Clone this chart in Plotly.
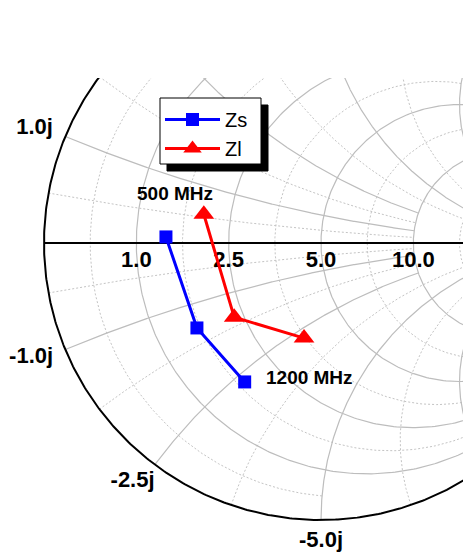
import numpy as np
import plotly.graph_objects as go

# ---------------- data (ohms, reference impedance Z0) ----------------
Z0 = 5.0
series_names = ["Zs", "Zl"]
zs_real = [1.41, 1.61, 1.79]
zs_imag = [0.09, -1.40, -2.67]
zl_real = [1.99, 2.31, 3.53]
zl_imag = [0.51, -1.49, -2.76]
freq_labels = ["500 MHz", "1200 MHz"]

# axis ticks (ohms)
real_ticks = [1.0, 2.5, 5.0, 10.0]
imag_ticks = [1.0, -1.0, -2.5, -5.0]
# grid values (normalised)
major_r = [0.2, 0.5, 1.0, 2.0, 5.0]
major_x = [0.2, 0.5, 1.0, 2.0, 5.0]
minor_v = [1 / 11, 1 / 3, 5 / 7, 7 / 5, 3.0, 11.0]

# ---------------- geometry helpers ----------------
PX = 277.0          # pixels per unit of reflection coefficient
CX, CY = 313.0, 235.0   # chart centre in figure pixels
W, H = 471, 556
TOP = 70
INF = 1e6


def gamma(z):
    z = np.asarray(z, dtype=complex)
    return (z - 1) / (z + 1)


def res_arc(r, xlim):
    t = np.linspace(-np.arctan(xlim), np.arctan(xlim), 400)
    g = gamma(r + 1j * np.tan(t))
    return list(g.real) + [None], list(g.imag) + [None]


def react_arc(x, rlim):
    t = np.linspace(0, np.arctan(rlim), 400)
    g = gamma(np.tan(t) + 1j * x)
    return list(g.real) + [None], list(g.imag) + [None]


def collect(items):
    xs, ys = [], []
    for a, b in items:
        xs += a
        ys += b
    return xs, ys


# grid extents
maj_r_lim = {0.2: 2.0, 0.5: 5.0, 1.0: INF, 2.0: INF, 5.0: INF}
maj_x_lim = {0.2: 2.0, 0.5: 2.0, 1.0: 5.0, 2.0: 5.0, 5.0: INF}
min_lim_r = {1 / 11: 1.0, 1 / 3: 2.0, 5 / 7: INF, 7 / 5: INF, 3.0: INF, 11.0: INF}
min_lim_x = {1 / 11: 2.0, 1 / 3: 2.0, 5 / 7: 5.0, 7 / 5: 5.0, 3.0: INF, 11.0: INF}

maj_items = [res_arc(r, maj_r_lim[r]) for r in major_r]
for x in major_x:
    maj_items.append(react_arc(x, maj_x_lim[x]))
    maj_items.append(react_arc(-x, maj_x_lim[x]))
min_items = [res_arc(r, min_lim_r[r]) for r in minor_v]
for x in minor_v:
    min_items.append(react_arc(x, min_lim_x[x]))
    min_items.append(react_arc(-x, min_lim_x[x]))

mx, my = collect(maj_items)
nx, ny = collect(min_items)


def px2x(p):
    return (p - CX) / PX


def px2y(p):
    return (CY - p) / PX


fig = go.Figure()
fig.add_trace(go.Scatter(x=nx, y=ny, mode="lines", showlegend=False, hoverinfo="skip",
                         line=dict(color="#c4c4c4", width=1, dash="2px,2px")))
fig.add_trace(go.Scatter(x=mx, y=my, mode="lines", showlegend=False, hoverinfo="skip",
                         line=dict(color="#bdbdbd", width=1.2)))
# outer circle and real axis
th = np.linspace(0, 2 * np.pi, 721)
fig.add_trace(go.Scatter(x=np.cos(th), y=np.sin(th), mode="lines", showlegend=False,
                         hoverinfo="skip", line=dict(color="black", width=2)))
fig.add_trace(go.Scatter(x=[-1, 1], y=[0, 0], mode="lines", showlegend=False,
                         hoverinfo="skip", line=dict(color="black", width=2)))

# legend frame: drop shadow + white box (drawn under the transparent legend)
fig.add_shape(type="rect", xref="x", yref="y", layer="above",
              x0=px2x(159), x1=px2x(260), y0=px2y(163), y1=px2y(97),
              fillcolor="black", line=dict(color="black", width=1))
fig.add_shape(type="rect", xref="x", yref="y", layer="above",
              x0=px2x(152), x1=px2x(253), y0=px2y(156), y1=px2y(90),
              fillcolor="white", line=dict(color="black", width=1))

# tick labels
FS = 22
lab_font = dict(family="Liberation Sans, Arial", size=FS, color="black", weight="bold")


def text_w(s):
    w = {"-": 0.333, ".": 0.278, "j": 0.278}
    return sum(w.get(c, 0.556) for c in s) * FS


rg = gamma(np.array(real_ticks) / Z0).real
fig.add_trace(go.Scatter(x=rg, y=[-18 / PX] * len(rg), mode="text", cliponaxis=False,
                         text=[f"{v:.1f}" for v in real_ticks], textposition="middle center",
                         textfont=lab_font, showlegend=False, hoverinfo="skip"))
lx, ly, lt = [], [], []
for v in imag_ticks:
    g = gamma(1j * v / Z0)
    ang = np.angle(g)
    txt = f"{v:.1f}j"
    hw = text_w(txt) / 2
    hh = 9
    dx = np.cos(ang) * (hw + 15)
    dy = np.sin(ang) * (hh + 12)
    lx.append(g.real + dx / PX)
    ly.append(g.imag + dy / PX)
    lt.append(txt)
fig.add_trace(go.Scatter(x=lx, y=ly, mode="text", text=lt, textposition="middle center",
                         cliponaxis=False, textfont=lab_font, showlegend=False,
                         hoverinfo="skip"))

# data
gs = gamma((np.array(zs_real) + 1j * np.array(zs_imag)) / Z0)
gl = gamma((np.array(zl_real) + 1j * np.array(zl_imag)) / Z0)
fig.add_trace(go.Scatter(x=gs.real, y=gs.imag, mode="lines+markers", name=series_names[0],
                         line=dict(color="blue", width=3),
                         marker=dict(symbol="square", size=13, color="blue")))
fig.add_trace(go.Scatter(x=gl.real, y=gl.imag, mode="lines+markers", name=series_names[1],
                         line=dict(color="red", width=3),
                         marker=dict(symbol="triangle-up", size=18, color="red")))

ann_font = dict(family="Liberation Sans, Arial", size=19, color="black", weight="bold")
fig.add_annotation(x=gl.real[0], y=gl.imag[0], text=freq_labels[0], showarrow=False,
                   xshift=-29, yshift=21, font=ann_font)
fig.add_annotation(x=gs.real[-1], y=gs.imag[-1], text=freq_labels[1], showarrow=False,
                   xanchor="left", xshift=19, yshift=4, font=ann_font)

plot_h = H - TOP
x_range = [(0 - CX) / PX, (W - CX) / PX]
y_range = [(CY - H) / PX, (CY - TOP) / PX]

fig.update_layout(
    width=W, height=H,
    margin=dict(l=0, r=0, t=TOP, b=0),
    paper_bgcolor="white", plot_bgcolor="white",
    xaxis=dict(range=x_range, visible=False, fixedrange=True),
    yaxis=dict(range=y_range, visible=False, fixedrange=True),
    showlegend=True,
    legend=dict(x=152 / W, y=(H - 92) / plot_h, xanchor="left", yanchor="top",
                bgcolor="rgba(0,0,0,0)", borderwidth=0,
                font=dict(family="Liberation Sans, Arial", size=20, color="black"),
                tracegroupgap=0, itemwidth=55),
)

fig.write_html("out.html")
